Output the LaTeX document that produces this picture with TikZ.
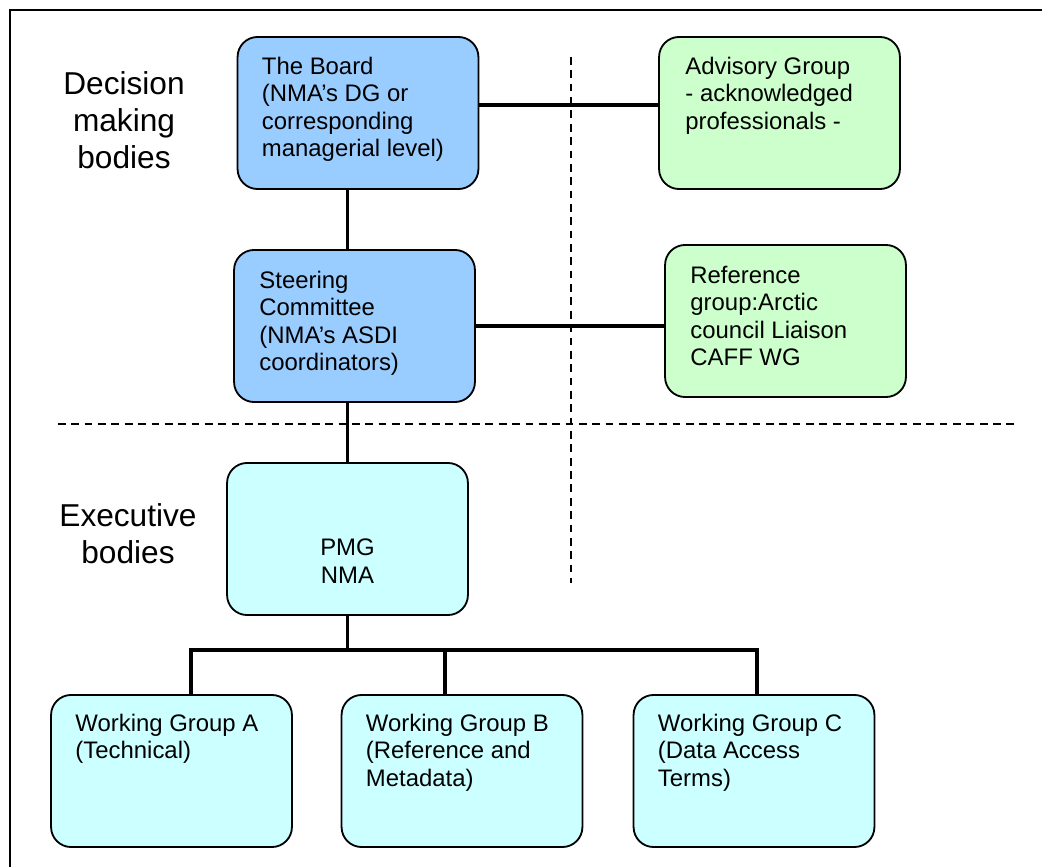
\documentclass[tikz,border=0pt]{standalone}
\usepackage{fontspec}
\setmainfont{Liberation Sans}

\definecolor{decblue}{HTML}{99CCFF}
\definecolor{advgreen}{HTML}{CCFFCC}
\definecolor{execcyan}{HTML}{CCFFFF}

\begin{document}
\begin{tikzpicture}[x=0.025cm,y=-0.025cm,line cap=round,
    body/.style={draw,line width=1.3pt,rounded corners=0.5cm,minimum width=6.02cm,minimum height=3.8cm,inner sep=0pt},
    bodytext/.style={anchor=north west,inner sep=0pt,align=left,font=\fontsize{17}{19.4}\selectfont},
    level/.style={anchor=north,inner sep=0pt,align=center,font=\fontsize{22.5}{26.5}\selectfont},
    link/.style={line width=2.5pt,line cap=butt},
    divider/.style={line width=1.1pt,line cap=butt,dash pattern=on 5.5pt off 4pt}]

\useasboundingbox (0,0) rectangle (1042,867);

        % frame
        \draw[line width=1.1pt,line cap=butt] (10,867) -- (10,10) -- (1042,10);

        % the dividing lines
        \draw[divider] (571,57) -- (571,583);
        \draw[divider] (58,424) -- (1018,424);

        % level labels
        \node[level] (decision) at (124,71) {Decision\\making\\bodies};
        \node[level] (executive) at (128,503) {Executive\\bodies};

        % decision making bodies
        \node[body,fill=decblue] (board) at (358,113) {};
        \node[body,fill=decblue] (steer) at (354.5,326) {};
        \node[body,fill=advgreen] (advisory) at (779.5,113) {};
        \node[body,fill=advgreen] (reference) at (785.5,321) {};

        % executive bodies
        \node[body,fill=execcyan] (pmg) at (347.5,539) {};
        \node[body,fill=execcyan] (wga) at (171.5,771) {};
        \node[body,fill=execcyan] (wgb) at (462,771) {};
        \node[body,fill=execcyan] (wgc) at (754,771) {};

        % texts in the boxes
        \node[bodytext] (board-t) at ([xshift=0.625cm,yshift=-0.525cm]board.north west)
            {The Board\\(NMA’s DG or\\corresponding\\managerial level)};
        \node[bodytext] (steer-t) at ([xshift=0.65cm,yshift=-0.55cm]steer.north west)
            {Steering\\Committee\\(NMA’s ASDI\\coordinators)};
        \node[bodytext] (advisory-t) at ([xshift=0.675cm,yshift=-0.525cm]advisory.north west)
            {Advisory Group\\- acknowledged\\professionals -};
        \node[bodytext] (reference-t) at ([xshift=0.65cm,yshift=-0.55cm]reference.north west)
            {Reference\\group:Arctic\\council Liaison\\CAFF WG};
        \node[bodytext,anchor=north,align=center] (pmg-t) at (pmg.center) {PMG\\NMA};
        \node[bodytext] (wga-t) at ([xshift=0.625cm,yshift=-0.5cm]wga.north west)
            {Working Group A\\(Technical)};
        \node[bodytext] (wgb-t) at ([xshift=0.625cm,yshift=-0.5cm]wgb.north west)
            {Working Group B\\(Reference and\\Metadata)};
        \node[bodytext] (wgc-t) at ([xshift=0.625cm,yshift=-0.5cm]wgc.north west)
            {Working Group C\\(Data Access\\Terms)};

        % connectors
        \draw[link] ([yshift=0.2cm]board.east) -- ([yshift=0.2cm]advisory.west);
        \draw[link] (steer.east) -- (steer.east -| reference.west);
        \draw[link] (board.south -| pmg.north) -- (steer.north -| pmg.north);
        \draw[link] (steer.south -| pmg.north) -- (pmg.north);

        % the bus to the working groups
        \coordinate (tapA) at (191,650);
        \coordinate (tapB) at (445,650);
        \coordinate (tapC) at (757,650);
        \draw[link] (pmg.south) -- (pmg.south |- tapA);
        \draw[link] (wga.north -| tapA) -- (tapA) -- (tapC) -- (wgc.north -| tapC);
        \draw[link] (tapB) -- (wgb.north -| tapB);
\end{tikzpicture}
\end{document}
